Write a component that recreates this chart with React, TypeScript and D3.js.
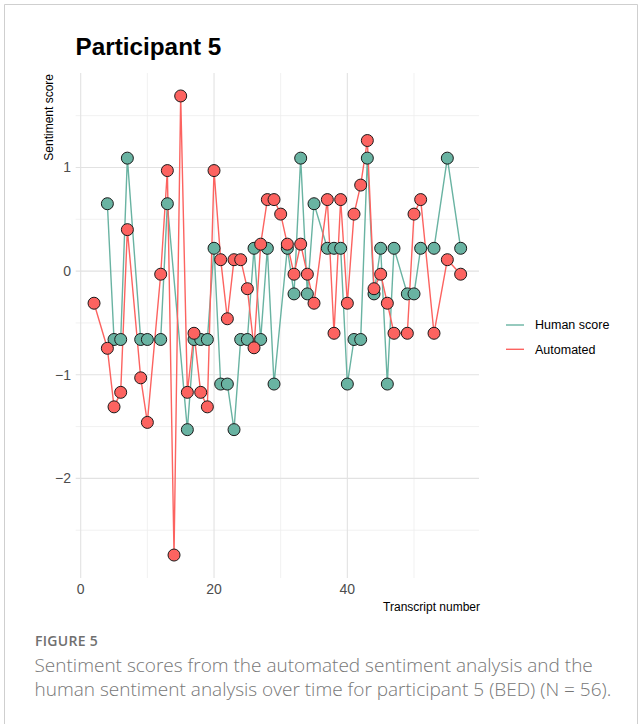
import React from "react";
import * as d3 from "d3";

// Transcript numbers and sentiment scores per series
const humanTranscripts = [4, 5, 6, 7, 9, 10, 12, 13, 16, 17, 18, 19, 20, 21, 22, 23, 24, 25, 26, 27, 28, 29, 31, 32, 33, 34, 35, 37, 38, 39, 40, 41, 42, 43, 44, 45, 46, 47, 49, 50, 51, 53, 55, 57];
const humanScores = [0.65, -0.66, -0.66, 1.09, -0.66, -0.66, -0.66, 0.65, -1.53, -0.66, -0.66, -0.66, 0.22, -1.09, -1.09, -1.53, -0.66, -0.66, 0.22, -0.66, 0.22, -1.09, 0.22, -0.22, 1.09, -0.22, 0.65, 0.22, 0.22, 0.22, -1.09, -0.66, -0.66, 1.09, -0.22, 0.22, -1.09, 0.22, -0.22, -0.22, 0.22, 0.22, 1.09, 0.22];

const autoTranscripts = [2, 4, 5, 6, 7, 9, 10, 12, 13, 14, 15, 16, 17, 18, 19, 20, 21, 22, 23, 24, 25, 26, 27, 28, 29, 30, 31, 32, 33, 34, 35, 37, 38, 39, 40, 41, 42, 43, 44, 45, 46, 47, 49, 50, 51, 53, 55, 57];
const autoScores = [-0.31, -0.745, -1.31, -1.17, 0.40, -1.03, -1.46, -0.03, 0.97, -2.74, 1.69, -1.17, -0.60, -1.17, -1.31, 0.97, 0.11, -0.46, 0.11, 0.11, -0.17, -0.74, 0.26, 0.69, 0.69, 0.55, 0.26, -0.03, 0.26, -0.03, -0.31, 0.69, -0.60, 0.69, -0.31, 0.55, 0.83, 1.26, -0.17, -0.03, -0.31, -0.60, -0.60, 0.55, 0.69, -0.60, 0.11, -0.03];

const seriesNames = ["Human score", "Automated"];
const seriesColors = ["#69b3a2", "#fc6360"];

const xMajorTicks = [0, 20, 40];
const xMinorTicks = [10, 30, 50];
const yMajorTicks = [-2, -1, 0, 1];
const yMinorTicks = [-2.5, -1.5, -0.5, 0.5, 1.5];

const titleText = "Participant 5";
const xTitle = "Transcript number";
const yTitle = "Sentiment score";
const captionLabel = "FIGURE 5";
const captionLines = [
  "Sentiment scores from the automated sentiment analysis and the",
  "human sentiment analysis over time for participant 5 (BED) (N = 56).",
];

type Pt = { x: number; y: number };

const series: { name: string; color: string; points: Pt[] }[] = [
  { name: seriesNames[0], color: seriesColors[0], points: humanTranscripts.map((x, i) => ({ x, y: humanScores[i] })) },
  { name: seriesNames[1], color: seriesColors[1], points: autoTranscripts.map((x, i) => ({ x, y: autoScores[i] })) },
];

const W = 641;
const H = 724;
const panel = { left: 75.7, right: 479, top: 73, bottom: 578 };

export default function App() {
  const allX = [...humanTranscripts, ...autoTranscripts];
  const allY = [...humanScores, ...autoScores];
  const [x0, x1] = d3.extent(allX) as [number, number];
  const [y0, y1] = d3.extent(allY) as [number, number];
  const xPad = (x1 - x0) * 0.05;
  const yPad = (y1 - y0) * 0.05;

  const x = d3.scaleLinear().domain([x0 - xPad, x1 + xPad]).range([panel.left, panel.right]);
  const y = d3.scaleLinear().domain([y0 - yPad, y1 + yPad]).range([panel.bottom, panel.top]);

  const line = d3
    .line<Pt>()
    .x((d) => x(d.x))
    .y((d) => y(d.y));

  const sans = "'Liberation Sans', Arial, Helvetica, sans-serif";
  const fmt = (v: number) => (v < 0 ? "\u2212" + Math.abs(v) : String(v));

  return (
    <svg width={W} height={H} style={{ position: "absolute", left: 0, top: 0, background: "#fff" }}>
      {/* figure frame */}
      <path d={`M4.5,${H + 2} V4.5 H637.5 V${H + 2}`} fill="none" stroke="#cfcfcf" strokeWidth={1} />

      <text x={75.5} y={54.5} fontFamily={sans} fontWeight="bold" fontSize={24.3} fill="#000">
        {titleText}
      </text>

      {/* grid */}
      <g>
        {yMinorTicks.map((t) => (
          <line key={"ym" + t} x1={panel.left} x2={panel.right} y1={y(t)} y2={y(t)} stroke="#ededed" strokeWidth={0.8} />
        ))}
        {xMinorTicks.map((t) => (
          <line key={"xm" + t} x1={x(t)} x2={x(t)} y1={panel.top} y2={panel.bottom} stroke="#ededed" strokeWidth={0.8} />
        ))}
        {yMajorTicks.map((t) => (
          <line key={"yM" + t} x1={panel.left} x2={panel.right} y1={y(t)} y2={y(t)} stroke="#e2e2e2" strokeWidth={1.1} />
        ))}
        {xMajorTicks.map((t) => (
          <line key={"xM" + t} x1={x(t)} x2={x(t)} y1={panel.top} y2={panel.bottom} stroke="#e2e2e2" strokeWidth={1.1} />
        ))}
      </g>

      {/* axis labels */}
      {yMajorTicks.map((t) => (
        <text key={"yl" + t} x={71} y={y(t)} dy="0.35em" textAnchor="end" fontFamily={sans} fontSize={14} fill="#4d4d4d">
          {fmt(t)}
        </text>
      ))}
      {xMajorTicks.map((t) => (
        <text key={"xl" + t} x={x(t)} y={593.5} textAnchor="middle" fontFamily={sans} fontSize={14} fill="#4d4d4d">
          {fmt(t)}
        </text>
      ))}
      <text x={panel.right + 1} y={611} textAnchor="end" fontFamily={sans} fontSize={12} fill="#000">
        {xTitle}
      </text>
      <text
        transform={`translate(52.5,${panel.top + 1}) rotate(-90)`}
        textAnchor="end"
        fontFamily={sans}
        fontSize={12}
        fill="#000"
      >
        {yTitle}
      </text>

      {/* lines */}
      {series.map((s) => (
        <path key={"l" + s.name} d={line(s.points) ?? ""} fill="none" stroke={s.color} strokeWidth={1.4} strokeLinejoin="round" />
      ))}
      {/* points */}
      {series.map((s) => (
        <g key={"p" + s.name}>
          {s.points.map((p, i) => (
            <circle key={i} cx={x(p.x)} cy={y(p.y)} r={6} fill={s.color} stroke="#1a1a1a" strokeWidth={1} />
          ))}
        </g>
      ))}

      {/* legend */}
      {series.map((s, i) => (
        <g key={"lg" + s.name} transform={`translate(506,${325 + i * 24.3})`}>
          <line x1={0} x2={18} y1={0} y2={0} stroke={s.color} strokeWidth={1.4} />
          <text x={29} y={0} dy="0.35em" fontFamily={sans} fontSize={12.5} fill="#000">
            {s.name}
          </text>
        </g>
      ))}

      {/* caption */}
      <text x={35} y={645.7} fontFamily="'Open Sans', sans-serif" fontWeight={600} fontSize={14} letterSpacing={0.3} fill="#6f6f6f">
        {captionLabel}
      </text>
      {captionLines.map((l, i) => (
        <text key={"c" + i} x={34.5} y={672 + i * 24} fontFamily="'Open Sans', sans-serif" fontWeight={300} fontSize={19} fill="#777">
          {l}
        </text>
      ))}
    </svg>
  );
}
